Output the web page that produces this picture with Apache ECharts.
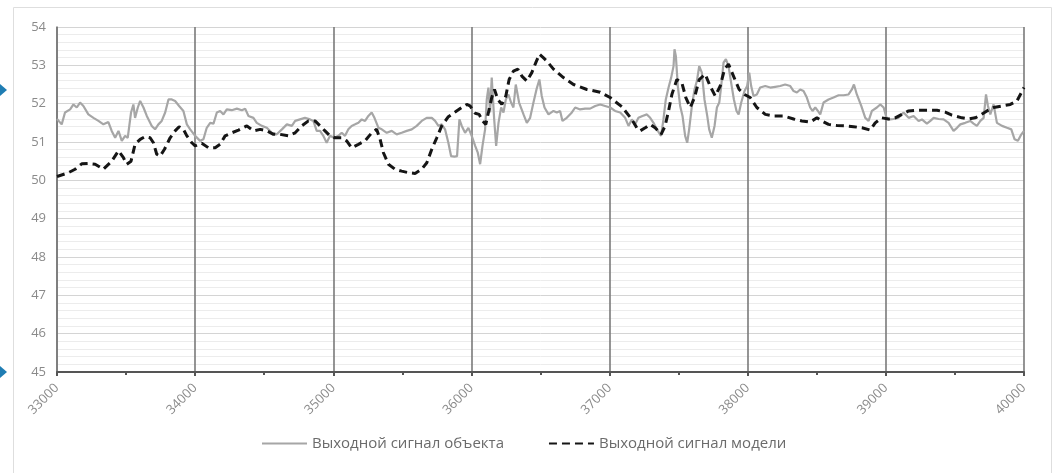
<!DOCTYPE html>
<html>
<head>
<meta charset="utf-8">
<script src="https://cdn.jsdelivr.net/npm/echarts@6/dist/echarts.min.js"></script>
<style>
  html, body { margin: 0; padding: 0; background: #ffffff; }
  #chart { width: 1057px; height: 473px; }
</style>
</head>
<body>
<div id="chart"></div>
<script>
// Time axis (sample index) and signal values
const objX = [33000,33010,33034,33058,33095,33119,33143,33167,33191,33227,33264,33300,33336,33372,33396,33421,33445,33469,33493,33512,33536,33553,33565,33585,33602,33626,33650,33686,33710,33734,33758,33783,33807,33831,33855,33884,33915,33940,33964,34000,34036,34060,34084,34109,34133,34157,34181,34205,34229,34265,34302,34338,34362,34386,34422,34446,34483,34519,34555,34591,34628,34664,34700,34724,34759,34795,34832,34856,34880,34904,34928,34952,34976,35008,35037,35061,35085,35109,35133,35158,35182,35206,35230,35254,35278,35298,35327,35351,35387,35423,35459,35495,35532,35568,35604,35640,35676,35713,35737,35761,35785,35809,35833,35853,35877,35896,35913,35930,35954,35978,36002,36027,36046,36063,36080,36099,36111,36123,36135,36147,36164,36179,36196,36215,36232,36249,36268,36287,36304,36321,36345,36377,36401,36425,36449,36473,36492,36509,36529,36558,36594,36618,36642,36659,36690,36727,36751,36787,36823,36859,36896,36932,36968,37004,37040,37077,37113,37137,37161,37185,37209,37238,37270,37294,37318,37342,37373,37390,37407,37427,37446,37463,37470,37480,37494,37511,37528,37547,37562,37576,37596,37615,37632,37649,37668,37687,37707,37721,37740,37760,37777,37794,37808,37825,37842,37861,37880,37900,37919,37934,37953,37977,37996,38011,38025,38042,38066,38090,38127,38163,38199,38235,38271,38308,38332,38356,38380,38404,38428,38452,38469,38489,38508,38525,38549,38585,38621,38658,38694,38730,38754,38769,38790,38822,38851,38875,38899,38935,38959,38984,39008,39032,39056,39092,39128,39165,39201,39237,39261,39297,39322,39346,39382,39418,39454,39490,39515,39539,39575,39611,39635,39659,39684,39708,39725,39739,39756,39780,39804,39841,39877,39908,39932,39956,39981,40000];
const objY = [51.6,51.55,51.46,51.77,51.85,51.98,51.9,52.03,51.94,51.72,51.63,51.55,51.46,51.52,51.29,51.11,51.29,51.03,51.16,51.11,51.77,51.98,51.63,51.9,52.07,51.9,51.68,51.42,51.33,51.46,51.55,51.77,52.11,52.11,52.07,51.94,51.81,51.46,51.33,51.16,51.03,51.07,51.37,51.5,51.48,51.77,51.81,51.72,51.85,51.83,51.87,51.83,51.87,51.68,51.63,51.5,51.42,51.37,51.24,51.2,51.33,51.46,51.42,51.55,51.59,51.63,51.59,51.55,51.29,51.29,51.16,50.98,51.16,51.11,51.16,51.24,51.16,51.33,51.42,51.46,51.5,51.59,51.55,51.68,51.77,51.63,51.37,51.33,51.24,51.29,51.2,51.24,51.29,51.33,51.42,51.55,51.63,51.63,51.55,51.42,51.46,51.33,50.98,50.63,50.62,50.63,51.59,51.42,51.24,51.37,51.16,50.9,50.72,50.42,50.9,51.33,52.11,52.42,51.77,52.68,51.63,50.9,51.5,51.9,51.77,52.11,52.24,52.03,51.9,52.5,52.03,51.72,51.5,51.63,52.03,52.4,52.63,52.2,51.9,51.72,51.81,51.77,51.81,51.55,51.63,51.77,51.9,51.85,51.87,51.87,51.94,51.98,51.94,51.9,51.81,51.77,51.63,51.42,51.59,51.46,51.63,51.68,51.72,51.63,51.5,51.33,51.16,51.59,52.11,52.42,52.68,52.98,53.42,53.24,52.46,51.94,51.68,51.16,50.98,51.33,51.94,52.37,52.59,52.98,52.81,52.11,51.68,51.33,51.11,51.42,51.9,52.03,52.46,53.07,53.16,52.98,52.55,52.11,51.81,51.72,52.03,52.33,52.46,52.81,52.46,52.2,52.24,52.42,52.46,52.42,52.44,52.46,52.5,52.46,52.33,52.29,52.37,52.33,52.16,51.9,51.81,51.9,51.81,51.72,52.03,52.11,52.16,52.22,52.22,52.24,52.37,52.5,52.24,51.94,51.63,51.55,51.81,51.9,51.98,51.9,51.59,51.59,51.6,51.63,51.77,51.63,51.68,51.55,51.59,51.48,51.55,51.63,51.6,51.59,51.5,51.29,51.37,51.46,51.5,51.55,51.48,51.42,51.55,51.63,52.24,51.94,51.72,51.98,51.5,51.42,51.37,51.33,51.07,51.03,51.2,51.29];

const modX = [33000,33010,33083,33131,33179,33227,33276,33336,33396,33445,33481,33505,33536,33565,33602,33638,33674,33698,33722,33746,33778,33819,33855,33884,33915,33940,33976,34000,34048,34096,34145,34181,34217,34265,34314,34374,34422,34471,34519,34567,34615,34676,34724,34771,34820,34868,34904,34940,34976,35013,35061,35097,35133,35182,35230,35278,35314,35339,35363,35399,35447,35495,35544,35592,35640,35677,35713,35749,35785,35833,35882,35930,35966,35990,36027,36056,36080,36104,36123,36147,36167,36191,36220,36249,36273,36304,36336,36365,36401,36437,36466,36492,36520,36546,36594,36666,36739,36836,36932,37004,37089,37161,37197,37221,37258,37294,37330,37373,37402,37427,37451,37487,37523,37552,37584,37615,37649,37692,37728,37765,37801,37832,37861,37897,37938,37977,38018,38066,38127,38187,38259,38332,38392,38452,38501,38537,38585,38646,38706,38766,38827,38887,38923,38971,39020,39068,39116,39165,39225,39297,39370,39430,39478,39551,39599,39647,39684,39732,39780,39841,39901,39949,40000];
const modY = [50.1,50.11,50.2,50.29,50.43,50.44,50.42,50.29,50.5,50.77,50.59,50.42,50.5,50.94,51.07,51.14,51.11,50.98,50.68,50.63,50.81,51.11,51.29,51.4,51.33,51.16,50.98,50.9,50.97,50.85,50.85,50.94,51.16,51.24,51.31,51.42,51.29,51.33,51.29,51.2,51.2,51.16,51.24,51.42,51.55,51.55,51.42,51.29,51.16,51.11,51.11,51.03,50.85,50.94,51.03,51.24,51.33,51.07,50.72,50.42,50.29,50.24,50.2,50.18,50.29,50.46,50.81,51.11,51.42,51.66,51.78,51.9,51.98,51.94,51.75,51.72,51.55,51.46,51.77,52.16,52.37,52.11,51.98,52.2,52.63,52.85,52.9,52.72,52.59,52.81,53.07,53.29,53.2,53.11,52.9,52.68,52.5,52.37,52.3,52.16,51.92,51.59,51.37,51.29,51.37,51.46,51.37,51.2,51.42,51.81,52.24,52.63,52.55,52.16,51.9,52.16,52.63,52.77,52.46,52.2,52.46,52.9,53.03,52.72,52.37,52.24,52.16,51.9,51.72,51.68,51.68,51.6,51.55,51.52,51.63,51.55,51.46,51.43,51.42,51.4,51.37,51.31,51.5,51.63,51.6,51.63,51.72,51.81,51.83,51.83,51.83,51.78,51.7,51.63,51.6,51.63,51.7,51.81,51.9,51.94,51.98,52.07,52.42];

const seriesNames = ['Выходной сигнал объекта', 'Выходной сигнал модели'];
const yTicks = [45, 46, 47, 48, 49, 50, 51, 52, 53, 54];
const xTicks = [33000, 34000, 35000, 36000, 37000, 38000, 39000, 40000];

const pairs = (xs, ys) => xs.map((x, i) => [x, ys[i]]);
const FONT = "'Open Sans', sans-serif";

const chart = echarts.init(document.getElementById('chart'), null, { renderer: 'canvas' });

chart.setOption({
  animation: false,
  backgroundColor: '#ffffff',
  textStyle: { fontFamily: FONT },
  graphic: [
    // light outer frame
    { type: 'rect', shape: { x: 13.5, y: 7.5, width: 1038, height: 470 },
      style: { fill: 'none', stroke: '#dedede', lineWidth: 1 }, z: -10 },
    // side markers
    { type: 'polygon', shape: { points: [[0, 84], [7, 90], [0, 96]] }, style: { fill: '#1f7db3' } },
    { type: 'polygon', shape: { points: [[0, 366], [7, 372], [0, 378]] }, style: { fill: '#1f7db3' } }
  ],
  grid: { left: 57, right: 33, top: 27, bottom: 101, containLabel: false },
  legend: {
    data: seriesNames,
    left: 256,
    top: 431,
    itemWidth: 45,
    itemHeight: 14,
    itemGap: 44,
    itemStyle: { opacity: 0 },
    textStyle: { color: '#6b6b6b', fontSize: 15, fontFamily: FONT }
  },
  xAxis: {
    type: 'value',
    min: xTicks[0],
    max: xTicks[xTicks.length - 1],
    interval: 1000,
    axisLine: { show: true, onZero: false, lineStyle: { color: '#555555', width: 2 } },
    axisTick: { show: true, length: 4, inside: false, lineStyle: { color: '#555555', width: 2 } },
    minorTick: { show: true, splitNumber: 2, length: 3, lineStyle: { color: '#555555', width: 2 } },
    axisLabel: {
      rotate: 45, margin: 14, color: '#8a8a8a', fontSize: 13, fontFamily: FONT,
      formatter: v => String(v)
    },
    splitLine: { show: true, lineStyle: { color: '#7a7a7a', width: 1.6 } }
  },
  yAxis: {
    type: 'value',
    min: yTicks[0],
    max: yTicks[yTicks.length - 1],
    interval: 1,
    axisLine: { show: true, lineStyle: { color: '#7a7a7a', width: 1.6 } },
    axisTick: { show: false },
    axisLabel: { margin: 11, color: '#8a8a8a', fontSize: 13, fontFamily: FONT },
    splitLine: { show: true, lineStyle: { color: '#d4d4d4', width: 1 } },
    minorTick: { show: false, splitNumber: 5 },
    minorSplitLine: { show: true, lineStyle: { color: '#ececec', width: 1 } }
  },
  series: [
    {
      name: seriesNames[0],
      type: 'line',
      data: pairs(objX, objY),
      symbol: 'none',
      lineStyle: { color: '#a6a6a6', width: 2.2 },
      itemStyle: { color: '#a6a6a6' },
      z: 3
    },
    {
      name: seriesNames[1],
      type: 'line',
      data: pairs(modX, modY),
      symbol: 'none',
      smooth: false,
      lineStyle: { color: '#151515', width: 3, type: [8, 5] },
      itemStyle: { color: '#151515' },
      z: 4
    }
  ]
});
</script>
</body>
</html>
